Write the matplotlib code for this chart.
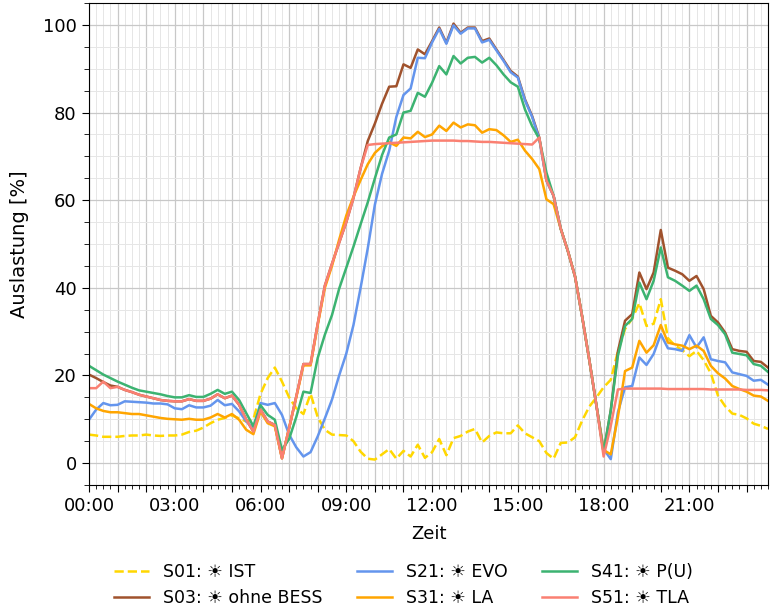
import matplotlib
matplotlib.use("Agg")
import matplotlib.pyplot as plt
from matplotlib.ticker import MultipleLocator, FuncFormatter
import numpy as np

# Viertelstundenwerte 00:00 .. 23:45
hours = np.arange(96) * 0.25

s01_ist = [6.5, 6.3, 6.0, 6.0, 6.0, 6.2, 6.3, 6.3, 6.5, 6.3,
           6.2, 6.3, 6.3, 6.5, 7.1, 7.4, 8.1, 9.1, 9.9, 10.3,
           10.9, 10.2, 9.5, 10.0, 15.8, 19.4, 21.8, 18.6, 15.0, 12.5,
           11.2, 15.8, 10.5, 7.6, 6.5, 6.4, 6.3, 5.0, 2.6, 1.0,
           0.8, 2.0, 3.2, 1.0, 2.8, 1.5, 4.2, 1.2, 2.5, 5.5,
           1.8, 5.7, 6.2, 7.2, 7.8, 4.7, 6.2, 7.0, 6.8, 6.8,
           8.6, 6.8, 5.9, 5.0, 2.3, 1.0, 4.6, 4.7, 5.9, 9.7,
           12.9, 15.0, 17.3, 19.0, 25.5, 30.6, 33.0, 36.5, 31.3, 31.8,
           37.4, 28.5, 26.8, 25.8, 24.4, 25.6, 23.5, 20.5, 15.4, 13.0,
           11.3, 11.0, 10.2, 9.0, 8.5, 7.8]

s51_tla = [17.1, 17.1, 18.6, 17.1, 17.4, 16.7, 16.2, 15.6, 15.2, 14.8,
           14.4, 14.2, 14.1, 14.1, 14.6, 14.2, 14.2, 14.7, 15.7, 14.8,
           15.4, 13.3, 9.9, 7.2, 12.2, 9.5, 8.7, 1.1, 8.0, 15.2,
           22.6, 22.6, 31.8, 40.5, 45.5, 50.3, 55.0, 60.5, 67.3,
           72.6, 72.8, 72.9, 73.0, 73.1, 73.2, 73.3, 73.4, 73.5, 73.6,
           73.6, 73.6, 73.6, 73.5, 73.5, 73.4, 73.3, 73.3, 73.2, 73.1,
           73.0, 72.9, 72.8, 72.7, 74.3,
           64.5, 61.0, 53.5, 48.4, 42.6, 33.4, 23.5, 13.1, 1.5,
           8.5, 16.8, 17.0, 17.0, 17.0, 17.0, 17.0, 17.0, 16.9, 16.9,
           16.9, 16.9, 16.9, 16.9, 16.8, 16.8, 16.8, 16.8, 16.8, 16.7,
           16.7, 16.7, 16.6]

s03_ohne = ([20.2, 19.4, 18.5, 17.7] + s51_tla[4:39] +
            [73.5, 77.5, 82.0, 85.9, 86.0, 91.0, 90.2, 94.4, 93.3, 96.3,
             99.4, 95.9, 100.3, 98.2, 99.4, 99.4, 96.3, 96.9, 94.4, 92.0,
             89.5, 88.2, 83.0, 79.2, 74.3, 64.5, 61.0, 53.5,
             48.4, 42.6, 33.4, 23.5, 13.1, 2.5,
             12.0, 25.5, 32.5, 34.0, 43.5, 39.7, 43.5, 53.2, 44.6, 43.9,
             43.1, 41.6, 42.7, 39.7, 33.6, 32.1, 29.8, 26.0, 25.6, 25.4,
             23.3, 23.1, 21.8])

s21_evo = [9.9, 12.2, 13.7, 13.2, 13.3, 14.1, 14.0, 13.9, 13.8, 13.6,
           13.6, 13.4, 12.5, 12.3, 13.2, 12.7, 12.7, 13.1, 14.4, 13.2,
           13.5, 11.8, 9.5, 8.0, 13.7, 13.3, 13.7, 11.0, 6.5, 3.6,
           1.5, 2.5, 6.1, 10.2, 14.5, 20.0,
           25.0, 31.5, 40.0, 49.0, 59.0, 66.0, 71.3, 79.0, 84.0, 85.5,
           92.5, 92.4, 96.0, 99.1, 95.7, 99.9, 98.0, 99.2, 99.2, 96.0,
           96.6, 94.2, 91.8, 89.2, 88.0, 82.8, 79.0, 74.0, 64.5, 61.0,
           53.5, 48.4, 42.6, 33.4, 23.5, 13.1, 3.2,
           0.9, 11.6, 17.3, 17.6, 24.1, 22.4, 24.9, 29.4, 26.2, 26.0,
           25.6, 29.2, 26.4, 28.7, 23.7, 23.3, 23.0, 20.7, 20.3, 19.9,
           18.8, 19.0, 17.9]

s31_la = [13.5, 12.5, 11.9, 11.6, 11.6, 11.4, 11.2, 11.2, 10.9, 10.6,
          10.3, 10.1, 10.0, 9.9, 10.1, 9.9, 9.9, 10.4, 11.2, 10.4,
          11.2, 9.9, 7.6, 6.6, 11.8, 9.1, 8.4, 1.1, 8.0, 15.0,
          22.3, 22.3, 31.5,
          40.0, 45.0, 51.0, 56.5, 60.8, 64.6, 68.2, 70.8, 72.3, 73.2,
          72.4, 74.3, 74.1, 75.6, 74.4, 75.0, 77.0, 75.8, 77.7, 76.6,
          77.3, 77.1, 75.4, 76.2, 76.0, 74.8, 73.3, 73.8, 71.3, 69.4,
          67.1, 60.2, 59.1, 53.5,
          48.4, 42.6, 33.4, 23.5, 13.1, 3.0,
          2.0, 10.5, 21.0, 21.8, 27.9, 25.2, 26.9, 31.5, 27.5, 27.1,
          26.8, 26.0, 26.8, 25.6, 22.2, 20.5, 19.3, 17.6, 16.9, 16.3,
          15.4, 15.2, 14.2]

s41_pu = [22.2, 21.2, 20.2, 19.4, 18.6, 17.9, 17.2, 16.6, 16.3, 16.0,
          15.7, 15.3, 15.0, 15.0, 15.5, 15.1, 15.1, 15.8, 16.7, 15.8,
          16.3, 14.4, 11.4, 8.4, 13.2, 11.0, 9.9, 3.0, 5.5, 10.5,
          16.3, 16.0,
          24.0, 29.3, 33.8, 39.8, 44.6, 49.4, 54.5, 59.5, 65.0, 70.3,
          74.3, 75.0, 80.0, 80.4, 84.5, 83.6, 86.8, 90.6, 88.7, 92.9,
          91.2, 92.5, 92.7, 91.4, 92.5, 90.8, 88.7, 86.9, 85.9, 80.7,
          76.9, 74.0, 66.3, 61.0, 53.5,
          48.4, 42.6, 33.4, 23.5, 13.1, 2.4,
          12.0, 24.5, 31.3, 32.9, 41.2, 37.4, 41.6, 49.2, 42.4, 41.6,
          40.5, 39.3, 40.5, 37.4, 32.9, 31.5, 29.4, 25.2, 24.9, 24.6,
          22.6, 22.2, 20.8]

labels = ["S01: \u2600 IST", "S03: \u2600 ohne BESS", "S21: \u2600 EVO",
          "S31: \u2600 LA", "S41: \u2600 P(U)", "S51: \u2600 TLA"]
colors = ["#FFD700", "#A0522D", "#6495ED", "#FFA500", "#3CB371", "#FA8072"]
series = [s01_ist, s03_ohne, s21_evo, s31_la, s41_pu, s51_tla]

fig = plt.figure(figsize=(7.7, 6.09), dpi=100)
ax = fig.add_axes([89 / 770, 1 - 485 / 609, 679 / 770, 482 / 609])

for i, (vals, lab, col) in enumerate(zip(series, labels, colors)):
    ls = "--" if i == 0 else "-"
    ax.plot(hours, vals, ls, color=col, lw=1.8, label=lab)

ax.set_xlim(0, 23.75)
ax.set_ylim(-5, 105)

ax.xaxis.set_major_locator(MultipleLocator(1))
ax.xaxis.set_minor_locator(MultipleLocator(0.25))
ax.xaxis.set_major_formatter(FuncFormatter(
    lambda v, p: f"{int(round(v)):02d}:00" if int(round(v)) % 3 == 0 else ""))
ax.yaxis.set_major_locator(MultipleLocator(20))
ax.yaxis.set_minor_locator(MultipleLocator(5))

ax.tick_params(axis="both", which="major", length=5.3, labelsize=13)
ax.tick_params(axis="x", which="minor", length=2.9)
ax.tick_params(axis="y", which="minor", length=3.6)

ax.grid(which="major", color="#c8c8c8", lw=0.9)
ax.grid(which="minor", color="#e6e6e6", lw=0.7)
ax.set_axisbelow(True)

ax.set_xlabel("Zeit", fontsize=13, labelpad=7)
ax.set_ylabel("Auslastung [%]", fontsize=14, labelpad=10)

fig.legend(loc="center", bbox_to_anchor=(0.524, 1 - 585 / 609), ncol=3,
           frameon=False, fontsize=12.5)

fig.savefig("out.png", dpi=100)
